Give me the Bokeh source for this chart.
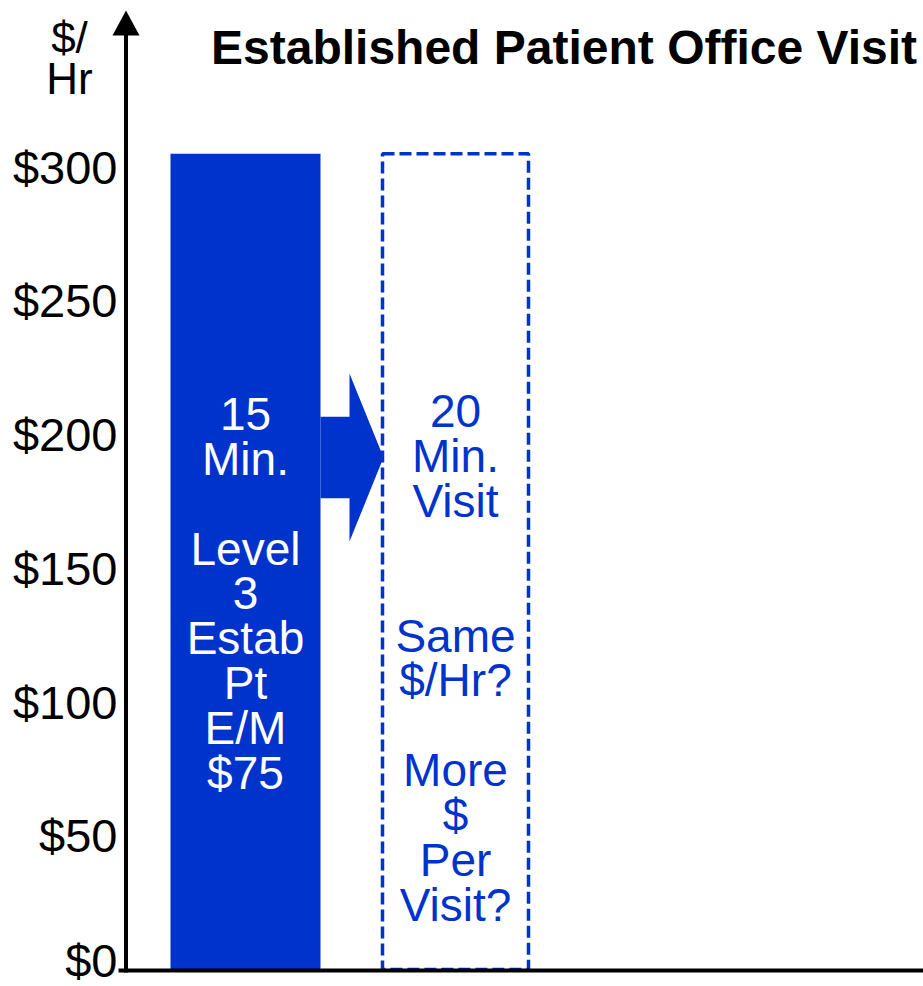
from bokeh.plotting import figure
from bokeh.models import Range1d, FixedTicker, LinearAxis
from bokeh.core.properties import value
from bokeh.embed import file_html
from bokeh.resources import INLINE

# ---------------- data ----------------
chart_title = "Established Patient Office Visit"
y_label = "$/\nHr"
ticks = [0, 50, 100, 150, 200, 250, 300]
tick_labels = ["$0", "$50", "$100", "$150", "$200", "$250", "$300"]
bar_names = ["15 Min. visit", "20 Min. visit"]
bar_values = [305, 305]          # $/Hr level of both columns
bar_texts = [
    "15\nMin.\n\nLevel\n3\nEstab\nPt\nE/M\n$75",
    "20\nMin.\nVisit\n\n\nSame\n$/Hr?\n\nMore\n$\nPer\nVisit?",
]
arrow_level = 191.4              # $/Hr where the transition arrow sits

# ---------------- layout / style ----------------
BLUE = "#0033CC"
FONT = "Liberation Sans"
W, H = 923, 986
BASE_PX = 969          # pixel row of $0
PX_PER_UNIT = 2.675
y0 = -(H - BASE_PX) / PX_PER_UNIT
y1 = BASE_PX / PX_PER_UNIT
def ypx(px):           # pixel row -> value (layout helper only)
    return (BASE_PX - px) / PX_PER_UNIT

AXIS_X = 125.5
bar_lefts = [170, 382]
bar_rights = [320, 528]
text_x = [245, 455]
text_y = [ypx(593), ypx(657.5)]

p = figure(width=W, height=H, output_backend="svg", toolbar_location=None,
           x_range=Range1d(0, W), y_range=Range1d(y0, y1),
           x_axis_type=None, y_axis_type=None,
           min_border_left=0, min_border_bottom=0, min_border_top=0, min_border_right=0)
p.outline_line_color = None
p.background_fill_color = "white"
p.border_fill_color = "white"

ax = LinearAxis(ticker=FixedTicker(ticks=ticks),
                major_label_overrides={t: l for t, l in zip(ticks, tick_labels)},
                axis_line_color=None, major_tick_line_color=None,
                minor_tick_line_color=None, major_tick_in=0, major_tick_out=0,
                major_label_standoff=-117,
                major_label_text_font_size="47px", major_label_text_font=FONT,
                major_label_text_color="black")
p.add_layout(ax, "left")

# filled bar (15 min)
p.quad(left=[bar_lefts[0]], right=[bar_rights[0]], bottom=0, top=[bar_values[0]],
       fill_color=BLUE, line_color=None)
# dashed outline (20 min)
p.quad(left=[bar_lefts[1]], right=[bar_rights[1]], bottom=0, top=[bar_values[1]],
       fill_color=None, line_color=BLUE, line_width=3.5, line_dash="12 5")

# block arrow between the columns
a = arrow_level
sx0, hx0, tip = bar_rights[0], bar_rights[0] + 29, bar_lefts[1] + 1
p.patch(x=[sx0, hx0, hx0, tip, hx0, hx0, sx0],
        y=[a + 15.2, a + 15.2, a + 31.4, a, a - 31.4, a - 15.2, a - 15.2],
        fill_color=BLUE, line_color=None)

# column texts
p.text(x=[text_x[0]], y=[text_y[0]], text=[bar_texts[0]], text_align="center",
       text_baseline="middle", text_font_size="46px", text_line_height=0.865,
       text_color="white", text_font=value(FONT))
p.text(x=[text_x[1]], y=[text_y[1]], text=[bar_texts[1]], text_align="center",
       text_baseline="middle", text_font_size="46px", text_line_height=0.865,
       text_color=BLUE, text_font=value(FONT))

# title
p.text(x=[563.5], y=[ypx(46.5)], text=[chart_title], text_align="center",
       text_baseline="middle", text_font_size="48px", text_font_style="bold",
       text_color="black", text_font=value(FONT))

# axis lines: vertical with arrow head, horizontal base line
p.segment(x0=[AXIS_X], y0=[ypx(972)], x1=[AXIS_X], y1=[ypx(34)], line_width=4, line_color="black")
p.patch(x=[AXIS_X - 13.5, AXIS_X + 13.5, AXIS_X], y=[ypx(35), ypx(35), ypx(10)],
        fill_color="black", line_color=None)
p.segment(x0=[118], y0=[ypx(970)], x1=[W], y1=[ypx(970)], line_width=4, line_color="black")

# y-axis unit label
p.text(x=[69], y=[ypx(57.5)], text=[y_label], text_align="center",
       text_baseline="middle", text_font_size="44px", text_line_height=0.85,
       text_color="black", text_font=value(FONT))

open("out.html", "w").write(file_html(p, INLINE))
